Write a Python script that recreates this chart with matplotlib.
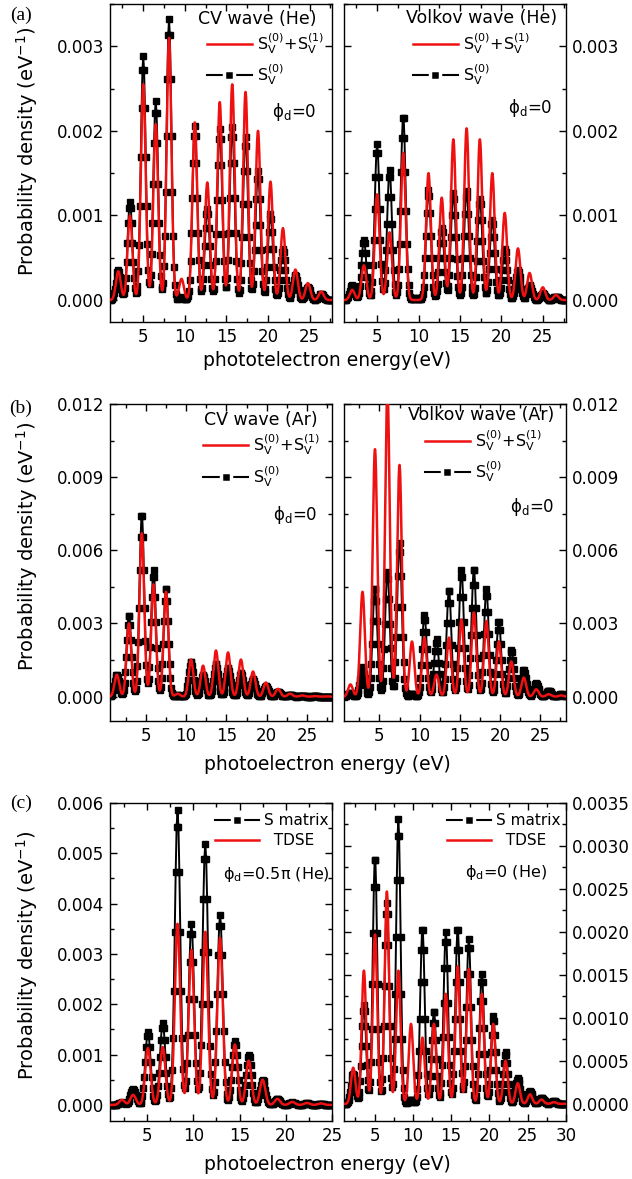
import numpy as np
import matplotlib.pyplot as plt
from matplotlib.lines import Line2D
from matplotlib.ticker import MultipleLocator, FormatStrFormatter

# peak energies (eV) and peak heights (1e-3 / eV)
# (a) CV wave (He)
A_CV_E = [2.0, 3.4, 5.0, 6.5, 8.1, 9.6, 11.2, 12.7, 14.2, 15.7, 17.3, 18.8, 20.3, 21.8, 23.3, 24.8, 26.4]
A_CV_RED = [0.34, 1.00, 2.55, 2.08, 3.10, 0.25, 2.10, 1.39, 2.34, 2.55, 2.46, 2.00, 1.40, 0.85, 0.36, 0.20, 0.10]
A_CV_BLK = [0.35, 1.16, 2.88, 2.35, 3.32, 0.03, 2.06, 1.08, 2.02, 2.05, 1.93, 1.52, 1.02, 0.60, 0.30, 0.15, 0.07]
# (a) Volkov wave (He)
A_VK_E = [2.0, 3.4, 5.0, 6.5, 8.15, 9.7, 11.2, 12.8, 14.2, 15.8, 17.4, 18.9, 20.4, 22.0, 23.4, 25.0, 26.6]
A_VK_RED = [0.12, 0.41, 1.25, 0.80, 1.74, 0.00, 1.50, 1.21, 1.90, 2.03, 1.90, 1.50, 1.03, 0.61, 0.32, 0.15, 0.06]
A_VK_BLK = [0.18, 0.71, 1.84, 1.54, 2.19, 0.02, 1.30, 0.85, 1.27, 1.29, 1.20, 0.95, 0.60, 0.35, 0.18, 0.08, 0.04]
# (b) CV wave (Ar)
B_CV_E = [1.4, 2.9, 4.5, 5.95, 7.5, 8.95, 10.6, 12.1, 13.7, 15.2, 16.8, 18.3, 19.9, 21.4, 22.9, 24.4, 26.0, 27.5]
B_CV_RED = [0.90, 3.0, 6.7, 4.6, 4.3, 0.12, 1.52, 1.27, 1.89, 1.81, 1.52, 1.03, 0.58, 0.32, 0.12, 0.05, 0.02, 0.01]
B_CV_BLK = [0.90, 3.35, 7.5, 5.2, 4.5, 0.05, 1.45, 0.90, 1.35, 1.20, 1.00, 0.75, 0.45, 0.20, 0.08, 0.03, 0.01, 0.0]
# (b) Volkov wave (Ar)
B_VK_E = [1.4, 2.9, 4.45, 6.0, 7.5, 9.05, 10.6, 12.1, 13.65, 15.2, 16.75, 18.3, 19.85, 21.4, 22.95, 24.5, 26.05, 27.6]
B_VK_RED = [0.5, 4.3, 10.15, 12.5, 9.5, 2.26, 2.42, 0.90, 2.42, 3.16, 3.45, 3.10, 2.26, 1.44, 0.78, 0.30, 0.10, 0.05]
B_VK_BLK = [0.15, 1.2, 4.5, 5.1, 6.3, 0.10, 3.35, 2.35, 4.4, 5.2, 5.25, 4.4, 3.1, 1.93, 1.10, 0.55, 0.25, 0.10]
# (c) phi_d = 0.5 pi (He)
C_05_E = [2.3, 3.5, 5.1, 6.7, 8.3, 9.8, 11.3, 12.9, 14.5, 16.0, 17.5, 19.1, 20.7, 22.3, 23.8]
C_05_BLK = [0.05, 0.32, 1.45, 1.63, 5.86, 3.60, 5.19, 3.78, 1.27, 1.00, 0.50, 0.12, 0.05, 0.03, 0.02]
C_05_RED = [0.10, 0.20, 1.13, 1.15, 3.60, 3.08, 3.44, 3.32, 1.20, 0.88, 0.50, 0.12, 0.06, 0.04, 0.03]
# (c) phi_d = 0 (He)
C_00_E = [2.2, 3.6, 5.05, 6.6, 8.1, 9.75, 11.25, 12.75, 14.3, 15.85, 17.3, 19.0, 20.5, 22.1, 23.7, 25.3, 26.8, 28.4]
C_00_BLK = [0.35, 1.15, 2.88, 2.34, 3.31, 0.05, 2.05, 1.08, 2.00, 2.05, 1.92, 1.51, 1.02, 0.60, 0.30, 0.15, 0.07, 0.03]
C_00_RED = [0.42, 1.55, 1.97, 2.47, 1.55, 0.93, 0.77, 0.93, 1.28, 1.60, 1.57, 1.28, 0.93, 0.50, 0.24, 0.11, 0.05, 0.02]

RED = "#ee1111"
WIDTH = 0.29  # peak width (eV) used to draw each ATI peak

LBL_TOT = r"S$_\mathrm{V}^{(0)}$+S$_\mathrm{V}^{(1)}$"
LBL_S0 = r"S$_\mathrm{V}^{(0)}$"
PHI = "\u03d5$_\\mathrm{d}$"


def spectrum(grid, centers, heights):
    e = np.asarray(centers)[:, None]
    h = np.asarray(heights)[:, None] * 1e-3
    return (h * np.exp(-0.5 * ((grid[None, :] - e) / WIDTH) ** 2)).sum(axis=0)


def draw(ax, xlim, centers, red, blk):
    xr = np.arange(xlim[0], xlim[1] + 0.02, 0.02)
    xb = np.arange(xlim[0], xlim[1] + 0.1, 0.1)
    ax.plot(xb, spectrum(xb, centers, blk), color="k", lw=1.4,
            marker="s", ms=3.8, zorder=2)
    ax.plot(xr, spectrum(xr, centers, red), color=RED, lw=1.8, zorder=3)
    ax.set_xlim(*xlim)


def style(ax, ylim, ymaj, fmt, right=False):
    ax.set_ylim(*ylim)
    ax.xaxis.set_major_locator(MultipleLocator(5))
    ax.xaxis.set_minor_locator(MultipleLocator(2.5))
    ax.yaxis.set_major_locator(MultipleLocator(ymaj))
    ax.yaxis.set_minor_locator(MultipleLocator(ymaj / 2))
    ax.yaxis.set_major_formatter(FormatStrFormatter(fmt))
    ax.tick_params(which="both", direction="in", top=True, right=True,
                   labelsize=12, width=1.0)
    ax.tick_params(which="major", length=5, pad=4)
    ax.tick_params(which="minor", length=3)
    ax.tick_params(axis="y", labelleft=not right, labelright=right)
    for s in ax.spines.values():
        s.set_linewidth(1.0)


h_tot = Line2D([], [], color=RED, lw=1.8)
h_s0 = Line2D([], [], color="k", lw=1.5, marker="s", ms=6.5, mec="white", mew=2.5, mfc="k")

fig = plt.figure(figsize=(6.32, 11.79), dpi=100)
W, H = 632.0, 1179.0


def axes_px(x0, x1, y0, y1):
    return fig.add_axes([x0 / W, 1 - y1 / H, (x1 - x0) / W, (y1 - y0) / H])


rows = [(4, 322), (404, 721), (803, 1121)]
axs = [[axes_px(110, 332, *r), axes_px(344, 566, *r)] for r in rows]

leg_kw = dict(loc="upper left", frameon=False, fontsize=11.5, handlelength=2.8,
              handletextpad=0.3, borderpad=0, borderaxespad=0)
leg_c = dict(leg_kw, fontsize=11, handlelength=2.9)

# ---- (a)
ax = axs[0][0]
draw(ax, (1, 27.7), A_CV_E, A_CV_RED, A_CV_BLK)
style(ax, (-0.00026, 0.0035), 0.001, "%.3f")
ax.text(0.93, 0.953, "CV wave (He)", transform=ax.transAxes, ha="right", va="center", fontsize=12.5)
ax.legend([h_tot, h_s0], [LBL_TOT, LBL_S0], bbox_to_anchor=(0.437, 0.915), labelspacing=0.4, **leg_kw)
ax.text(0.93, 0.66, PHI + "=0", transform=ax.transAxes, ha="right", va="center", fontsize=12)

ax = axs[0][1]
draw(ax, (1, 27.8), A_VK_E, A_VK_RED, A_VK_BLK)
style(ax, (-0.00026, 0.0035), 0.001, "%.3f", right=True)
ax.text(0.96, 0.956, "Volkov wave (He)", transform=ax.transAxes, ha="right", va="center", fontsize=12.5)
ax.legend([h_tot, h_s0], [LBL_TOT, LBL_S0], bbox_to_anchor=(0.311, 0.915), labelspacing=0.4, **leg_kw)
ax.text(0.94, 0.673, PHI + "=0", transform=ax.transAxes, ha="right", va="center", fontsize=12)

# ---- (b)
ax = axs[1][0]
draw(ax, (0.55, 28.1), B_CV_E, B_CV_RED, B_CV_BLK)
style(ax, (-0.001, 0.012), 0.003, "%.3f")
ax.text(0.935, 0.95, "CV wave (Ar)", transform=ax.transAxes, ha="right", va="center", fontsize=12.5)
ax.legend([h_tot, h_s0], [LBL_TOT, LBL_S0], bbox_to_anchor=(0.42, 0.91), labelspacing=0.4, **leg_kw)
ax.text(0.935, 0.65, PHI + "=0", transform=ax.transAxes, ha="right", va="center", fontsize=12)

ax = axs[1][1]
draw(ax, (0.6, 28.2), B_VK_E, B_VK_RED, B_VK_BLK)
style(ax, (-0.001, 0.012), 0.003, "%.3f", right=True)
ax.text(0.945, 0.965, "Volkov wave (Ar)", transform=ax.transAxes, ha="right", va="center", fontsize=12.5)
ax.legend([h_tot, h_s0], [LBL_TOT, LBL_S0], bbox_to_anchor=(0.365, 0.925), labelspacing=0.4, **leg_kw)
ax.text(0.95, 0.675, PHI + "=0", transform=ax.transAxes, ha="right", va="center", fontsize=12)

# ---- (c)
ax = axs[2][0]
draw(ax, (1, 25), C_05_E, C_05_RED, C_05_BLK)
style(ax, (-0.00032, 0.006), 0.001, "%.3f")
ax.legend([h_s0, h_tot], ["S matrix", "  TDSE"], bbox_to_anchor=(0.473, 0.967), labelspacing=0.3, **leg_c)
ax.text(0.99, 0.774, PHI + "=0.5\u03c0 (He)", transform=ax.transAxes, ha="right", va="center", fontsize=11.5)

ax = axs[2][1]
draw(ax, (1, 30), C_00_E, C_00_RED, C_00_BLK)
style(ax, (-0.0002, 0.0035), 0.0005, "%.4f", right=True)
ax.legend([h_s0, h_tot], ["S matrix", "  TDSE"], bbox_to_anchor=(0.464, 0.967), labelspacing=0.3, **leg_c)
ax.text(0.914, 0.783, PHI + "=0 (He)", transform=ax.transAxes, ha="right", va="center", fontsize=11.5)

# ---- shared labels
ylab = r"Probability density (eV$^{-1}$)"
for yc in (151, 546, 955):
    fig.text(27 / W, 1 - yc / H, ylab, rotation=90, ha="center", va="center", fontsize=14)
for yc, txt in ((361, "phototelectron energy(eV)"), (765, "photoelectron energy (eV)"),
                (1165, "photoelectron energy (eV)")):
    fig.text(327 / W, 1 - yc / H, txt, ha="center", va="center", fontsize=13.5)
for yc, txt in ((15, "(a)"), (408, "(b)"), (803, "(c)")):
    fig.text(21 / W, 1 - yc / H, txt, ha="center", va="center", fontsize=14, family="Liberation Serif")

fig.savefig("out.png", dpi=100)
